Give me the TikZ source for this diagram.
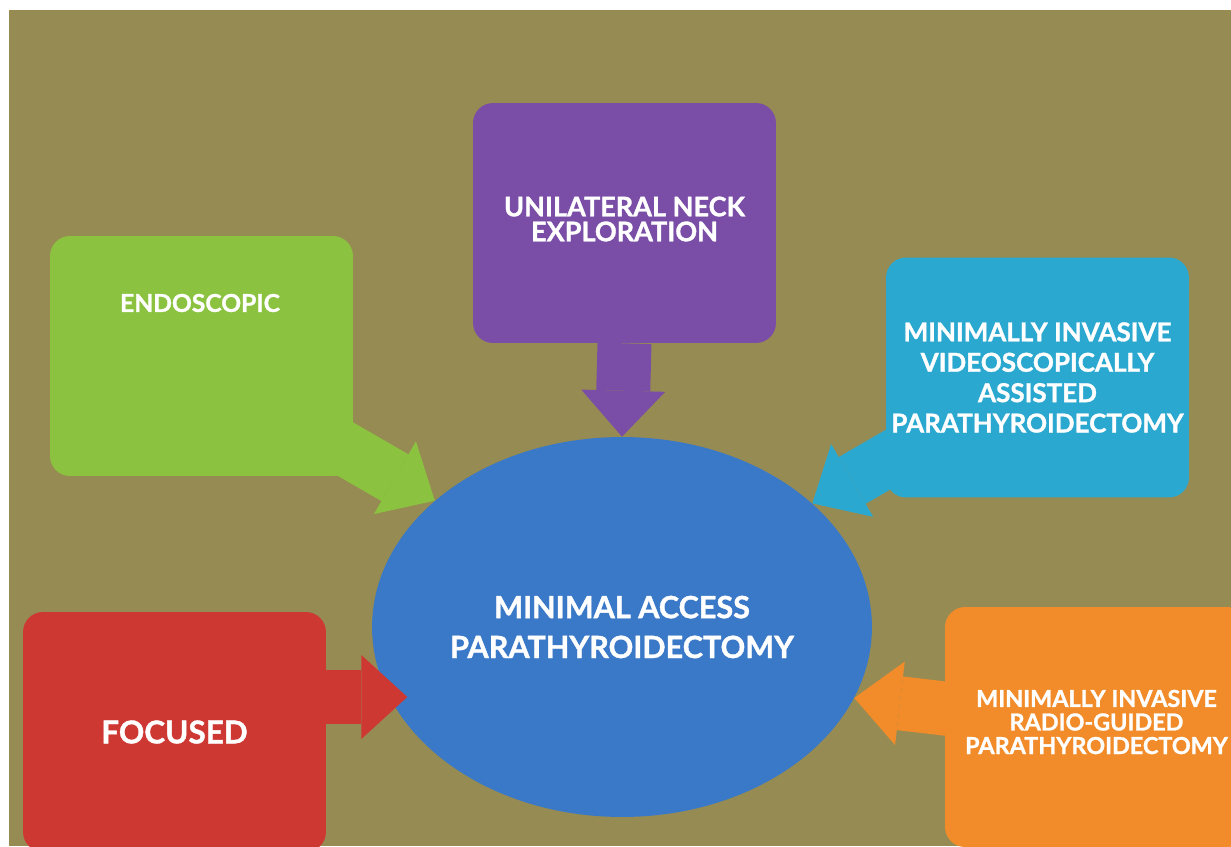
\documentclass[tikz,border=0pt]{standalone}
\usepackage{fontspec}
\setmainfont{Lato}[BoldFeatures={FakeBold=1.2}]
\usetikzlibrary{shapes.geometric,arrows.meta,calc}

\definecolor{bgolive}{RGB}{150,139,83}
\definecolor{uneviolet}{RGB}{122,78,166}
\definecolor{endogreen}{RGB}{139,195,64}
\definecolor{mivapcyan}{RGB}{42,168,208}
\definecolor{macblue}{RGB}{58,121,200}
\definecolor{focred}{RGB}{206,56,51}
\definecolor{mirporange}{RGB}{242,140,42}

\pgfdeclarelayer{back}
\pgfdeclarelayer{mid}
\pgfsetlayers{back,mid,main}

\tikzset{
  box/.style={rounded corners=0.4cm,minimum width=6.06cm,minimum height=4.8cm,inner sep=0pt},
  txt/.style={text=white,align=center},
  bigarrow/.style={line width=1.08cm,-{Triangle[length=0.92cm,width=1.68cm,line width=0pt]}}
}

\begin{document}
\begin{tikzpicture}[x=0.02cm,y=-0.02cm]
    \useasboundingbox (0,0) rectangle (1231,846);

    \begin{pgfonlayer}{back}
        \fill[white] (0,0) rectangle (1231,846);
        \fill[bgolive] (9,10) rectangle (1231,846);
        \node[ellipse,fill=macblue,minimum width=10cm,minimum height=7.6cm,inner sep=0pt,
              txt,font=\bfseries\fontsize{17.4}{22.7}\selectfont] (mac) at (622,627)
              {MINIMAL ACCESS\\PARATHYROIDECTOMY};
    \end{pgfonlayer}

    % boxes
    \node[box,fill=uneviolet] (une) at (624.5,223) {};
    \node[txt,font=\bfseries\fontsize{15.4}{14.2}\selectfont] (une text) at (624.5,219)
        {UNILATERAL NECK\\EXPLORATION};
    \node[box,fill=endogreen] (endo) at (201.5,356) {};
    \node[txt,font=\bfseries\fontsize{14}{16}\selectfont] (endo text) at (200,303) {ENDOSCOPIC};
    \node[box,fill=mivapcyan,txt,font=\bfseries\fontsize{14.8}{17.3}\selectfont] (mivap) at (1037.5,377.5)
        {MINIMALLY INVASIVE\\VIDEOSCOPICALLY\\ASSISTED\\PARATHYROIDECTOMY};
    \node[box,fill=focred,txt,font=\bfseries\fontsize{17.9}{20}\selectfont] (foc) at (174.5,732) {FOCUSED};
    \node[box,fill=mirporange] (mirp) at (1096.5,727) {};
    \node[txt,font=\bfseries\fontsize{13.3}{13.4}\selectfont] (mirp text) at (1096.5,722)
        {MINIMALLY INVASIVE\\RADIO-GUIDED\\PARATHYROIDECTOMY};

    % arrows into the centre
    \begin{pgfonlayer}{mid}
        \draw[bigarrow,uneviolet] (une.south) -- (mac.north);
        \draw[bigarrow,endogreen] ($(endo.south east)+(-30,-40)$) -- (mac.146);
        \draw[bigarrow,mivapcyan] ($(mivap.south west)+(35,-57)$) -- (mac.33);
        \draw[bigarrow,focred] ($(foc.east)+(-30,-35)$) -- ($(foc.east)+(81,-35)$);
        \draw[bigarrow,mirporange] ($(mirp.west)+(30,-15)$) -- (mac.343);
    \end{pgfonlayer}
\end{tikzpicture}
\end{document}
